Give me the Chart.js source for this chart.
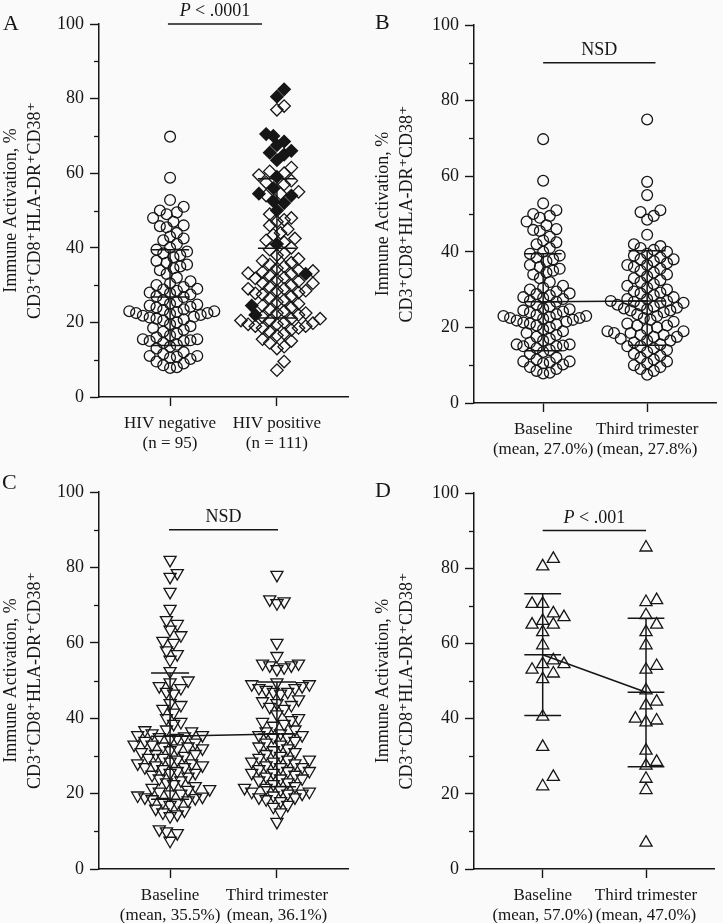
<!DOCTYPE html>
<html>
<head>
<meta charset="utf-8">
<script src="https://cdn.jsdelivr.net/npm/chart.js@4.4.0/dist/chart.umd.min.js"></script>
<style>
  body { margin: 0; background: #fafafa; }
  .panel { position: absolute; }
</style>
</head>
<body>
<div class="panel" style="left:0;top:0;width:362px;height:460px"><canvas id="chartA"></canvas></div>
<div class="panel" style="left:362px;top:0;width:361px;height:460px"><canvas id="chartB"></canvas></div>
<div class="panel" style="left:0;top:460px;width:362px;height:463px"><canvas id="chartC"></canvas></div>
<div class="panel" style="left:362px;top:460px;width:361px;height:463px"><canvas id="chartD"></canvas></div>
<script>
// data

const hivGroups = ['HIV negative', 'HIV positive']
const hivCounts = ['(n = 95)', '(n = 111)']
const visits = ['Baseline', 'Third trimester']
const meansB = ['(mean, 27.0%)', '(mean, 27.8%)']
const meansC = ['(mean, 35.5%)', '(mean, 36.1%)']
const meansD = ['(mean, 57.0%)', '(mean, 47.0%)']
const yTicks = [0, 20, 40, 60, 80, 100]

// HIV negative women at baseline (panel A left, panel B left)
const negBaseline = [69.8, 58.8, 52.8,
  51, 50, 49.5, 49, 48,
  47, 46, 45.8, 45.5,
  44, 43, 42.5, 42,
  41, 40, 39.5, 39, 38.5, 38, 37.5,
  36.5, 36, 35.5, 35, 34.5, 34,
  33, 32, 31, 30.5, 30,
  29.5, 29, 28.8, 28.5, 28, 27.8, 27.5, 27, 26.8,
  26, 25.5, 25, 24.5, 24.2, 24,
  24.8, 23.5, 23.3, 23, 23, 22.8, 22.5, 22.5, 22.3, 22, 21.3, 20.8,
  21.8, 21.5, 21, 20.5, 20, 19.5, 19,
  18.5, 18, 17.5, 17, 16.5, 16,
  15.5, 15.5, 15.2, 15, 15, 14.5, 14, 13.5, 13,
  12, 11.5, 11, 11, 10.8, 10.5, 10.2,
  9.5, 9, 8.5, 8, 7.8]

// HIV positive women at baseline (panel A right): open and filled diamonds
const posOpen = [78, 77,
  61.5, 60.5, 60, 59.5,
  58, 57.5, 57,
  55, 54.5, 54,
  49, 48, 47.5, 47,
  46, 45, 44,
  43.5, 42.5, 42, 41.5,
  40, 39.5, 38.5, 38,
  37, 36.5, 36, 35.5, 35,
  34.5, 34, 33.8, 33.5, 33.2, 33, 32.5, 32,
  31.8, 31.5, 31, 30.5, 30.5, 30, 29.5, 29, 29,
  28.5, 28.5, 28, 27.8, 27.5, 27, 26.5, 26,
  25.5, 25, 24.5, 24, 23.5, 23,
  22.5, 22.5, 22, 21.5, 21, 21, 20.5, 20.5, 20,
  19.8, 19.5, 19.5, 19, 19, 18.5, 18.5, 18,
  17.5, 17, 16.5, 15.5, 15,
  14.5, 13.5, 13,
  9.5, 7.2]
const posFilled = [82.5, 80.5, 70.5, 70, 68.5, 67.5, 66, 65.5, 65, 63.5, 59,
  56, 54.5, 54, 52.5, 52, 50, 41, 33, 24.5, 22]

// HIV negative, third trimester (panel B right)
const negThird = [75, 58.5, 55, 51, 50.5, 49.5, 48.5,
  44.5, 42, 41.5, 41,
  40.5, 40, 39.5, 39, 38.5, 38, 38,
  37.5, 37, 36.5, 36.5, 36, 35.5, 35,
  34.5, 34, 33.5, 33, 32.5, 32,
  31.5, 31, 30.5, 30, 29.5, 29,
  29.2, 28.5, 28, 27.5, 27.5, 27, 27, 26.8, 26.5, 26.5, 26, 25.8, 25.2, 24.8,
  25.5, 25, 24.5, 24.5, 24, 23.5, 23,
  22.5, 22, 21.5, 21, 20.5, 20.5, 20,
  19.5, 19, 19, 18.5, 18.5, 18, 18, 17.5, 17.5, 17,
  16.5, 16.5, 16, 15.5, 15, 15, 14.5, 14,
  13.5, 13, 12.5, 12, 11.5, 11,
  10.5, 10, 9.5, 9, 8.5, 7.5]

// HIV positive, baseline / third trimester (panel C)
const posBaseline = [82, 78.5, 77.5, 73.5, 69, 66, 65, 63.5, 62, 60.5, 60, 58, 57, 55.5,
  52.5, 50, 49.5, 48.5, 48, 47, 46.5,
  44, 43.5, 42.5, 41.5, 40, 39, 38.5,
  37, 36.8, 36.5, 36, 35.5, 35.5, 35.2, 35, 34.8, 34.5, 34,
  33.5, 33, 33, 32.5, 32.5, 32, 32, 31.5,
  31, 30.5, 30.5, 30, 29.5, 29.5, 29,
  28.5, 28, 28, 27.5, 27.5, 27, 27, 26.5, 26,
  25.5, 25.5, 25, 24.5, 24, 23.5, 23,
  22.5, 22, 21.5, 21.2, 21, 20.5, 20, 19.8, 19.2, 18.8,
  19.5, 19, 18.5, 18.2, 17.8, 17.5,
  17, 16, 15.5, 15, 14.5, 14,
  10.5, 10, 9.5, 7.5]
const posThird = [78, 71.5, 71, 70.5, 60, 56.5,
  54.5, 54.5, 54, 54, 53.5, 53,
  49.5, 49, 49, 48.5, 48, 48, 47.5, 47, 47, 46.5,
  45, 44.5, 44, 43.5, 43, 42.5,
  41, 40, 39.5, 39, 38.5, 38,
  37, 36.5, 36, 35.5, 35.5, 35, 35,
  34, 33.5, 33, 32.5, 32, 31.5, 31,
  30.5, 30, 29.5, 29, 29, 28.5, 28.5, 28,
  27.5, 27, 27, 26.5, 26, 26, 25.5, 25.5, 25,
  24.5, 24, 24, 23.5, 23, 22.5,
  22, 21.5, 21.5, 21, 20.5, 20.5, 20, 20,
  19.5, 19, 19, 18.5, 18,
  17, 16.5, 15, 12.5]

// panel D subset
const dBaseline = [82.5, 80.5, 70.5, 70.5, 68, 66, 67, 65, 65, 63, 59.5, 55.5,
  54.5, 54.5, 53, 52, 50.5, 40.5, 32.5, 24.5, 22]
const dThird = [85.5, 71.5, 71, 67.5, 65, 63, 59.5, 54, 53, 47.5, 44.5, 43.5,
  40, 39.5, 39, 31.5, 28.5, 27.5, 24, 21, 7]

// error bars: [upper, centre, lower]
const barsNegBase = [39.5, 26.8, 13.8]
const barsPos = [58.5, 39.9, 21.2]
const barsNegThird = [40.3, 27.0, 15.3]
const barsPosBase = [52, 35.2, 18.5]
const barsPosThird = [49.6, 35.8, 21.8]
const barsDBase = [73.2, 57, 40.8]
const barsDThird = [66.7, 47, 27.2]

// ---------------------------------------------------------------

const SERIF = "'Liberation Serif', 'DejaVu Serif', serif"
const INK = '#161616'
const XMIN = 0.335, XMAX = 2.665
const HALF = 0.178

const GEO = {
  A: { w: 362, h: 460, left: 99, right: 14, top: 24, xh: 63, titlePad: 0 },
  B: { w: 361, h: 460, left: 112, right: 0, top: 25, xh: 57, titlePad: 10 },
  C: { w: 362, h: 463, left: 99, right: 14, top: 32, xh: 54, titlePad: 0 },
  D: { w: 361, h: 463, left: 112, right: 0, top: 33, xh: 54, titlePad: 10 },
}

// beeswarm with an elliptical keep-out (gx across, gy up/down), pixels -> x units
function swarm(values, center, geo, gx, gy) {
  const pxX = (geo.w - geo.left - geo.right) / (XMAX - XMIN)
  const pxY = (geo.h - geo.top - geo.xh) / 100
  const order = values.map((v, i) => i).sort((a, b) => values[a] - values[b])
  const placed = []
  const xs = new Array(values.length)
  order.forEach(i => {
    const py = values[i] * pxY
    let off = 0
    for (let s = 0; s < 80; s++) {
      off = (s % 2 ? 1 : -1) * Math.ceil(s / 2) * gx * 0.5
      const free = placed.every(p => {
        const dx = (p.x - off) / gx, dy = (p.y - py) / gy
        return dx * dx + dy * dy >= 1
      })
      if (free) break
    }
    placed.push({ x: off, y: py })
    xs[i] = center + off / pxX
  })
  return xs
}

function points(values, xs, style) {
  return Object.assign({
    data: values.map((v, i) => ({ x: xs[i], y: v })),
    borderColor: INK,
    backgroundColor: 'rgba(0,0,0,0)',
    borderWidth: 1.3,
    showLine: false,
    clip: false,
  }, style)
}

function bars(center, vals) {
  const [hi, mid, lo] = vals
  return [
    { x: center - HALF, y: hi }, { x: center + HALF, y: hi }, { x: center, y: null },
    { x: center - HALF, y: mid }, { x: center + HALF, y: mid }, { x: center, y: null },
    { x: center - HALF, y: lo }, { x: center + HALF, y: lo }, { x: center, y: null },
    { x: center, y: hi }, { x: center, y: lo },
  ]
}

function lineSet(data) {
  return { data, showLine: true, borderColor: INK, borderWidth: 1.5, pointRadius: 0, spanGaps: false, clip: false }
}

const circle = { pointStyle: 'circle', pointRadius: 5.4 }
const diamond = { pointStyle: 'rectRot', pointRadius: 6.2 }
const triDown = { pointStyle: 'triangle', pointRadius: 7, rotation: 180 }
const triUp = { pointStyle: 'triangle', pointRadius: 7, rotation: 0 }

const decor = {
  id: 'decor',
  afterDraw(chart, args, o) {
    const { ctx } = chart
    const x = chart.scales.x, y = chart.scales.y
    ctx.save()
    ctx.strokeStyle = INK
    ctx.lineWidth = 1.3
    for (let v = 10; v < 100; v += 20) {
      const py = Math.round(y.getPixelForValue(v)) + 0.5
      ctx.beginPath()
      ctx.moveTo(y.right - 5, py)
      ctx.lineTo(y.right, py)
      ctx.stroke()
    }
    ctx.fillStyle = INK
    ctx.textBaseline = 'alphabetic'
    ctx.font = '22px ' + SERIF
    ctx.fillText(o.letter[0], o.letter[1], o.letter[2])

    const s = o.sig
    const x1 = x.getPixelForValue(s.from), x2 = x.getPixelForValue(s.to)
    const ly = y.getPixelForValue(s.level)
    ctx.lineWidth = 1.5
    ctx.beginPath()
    ctx.moveTo(x1, ly)
    ctx.lineTo(x2, ly)
    ctx.stroke()
    const itFont = 'italic 18px ' + SERIF, rmFont = '18px ' + SERIF
    ctx.font = itFont
    const w1 = s.italic ? ctx.measureText(s.italic).width : 0
    ctx.font = rmFont
    const w2 = ctx.measureText(s.text).width
    let tx = (x1 + x2) / 2 - (w1 + w2) / 2
    if (s.italic) {
      ctx.font = itFont
      ctx.fillText(s.italic, tx, ly - 8)
      tx += w1
    }
    ctx.font = rmFont
    ctx.fillText(s.text, tx, ly - 8)
    ctx.restore()
  }
}

function makeChart(id, geo, datasets, topLabels, bottomLabels, letter, sig) {
  return new Chart(document.getElementById(id), {
    type: 'scatter',
    data: { datasets },
    plugins: [decor],
    options: {
      responsive: true,
      maintainAspectRatio: false,
      animation: false,
      layout: { padding: { top: geo.top, right: geo.right, left: 0, bottom: 0 } },
      plugins: {
        legend: { display: false },
        tooltip: { enabled: false },
        decor: { letter, sig },
      },
      scales: {
        x: {
          type: 'linear',
          min: XMIN,
          max: XMAX,
          afterBuildTicks: s => { s.ticks = [{ value: 1 }, { value: 2 }] },
          afterFit: s => { s.height = geo.xh },
          ticks: {
            autoSkip: false,
            maxRotation: 0,
            padding: 7,
            color: INK,
            font: { family: SERIF, size: 17, lineHeight: 1.2 },
            callback: v => [topLabels[Math.round(v) - 1], bottomLabels[Math.round(v) - 1]],
          },
          grid: { drawOnChartArea: false, tickLength: 9, tickWidth: 1.4, tickColor: INK },
          border: { color: INK, width: 1.5 },
        },
        y: {
          min: 0,
          max: 100,
          afterBuildTicks: s => { s.ticks = yTicks.map(v => ({ value: v })) },
          afterFit: s => { s.width = geo.left },
          ticks: { padding: 6, color: INK, font: { family: SERIF, size: 18 } },
          grid: { drawOnChartArea: false, tickLength: 9, tickWidth: 1.4, tickColor: INK },
          border: { color: INK, width: 1.5 },
          title: {
            display: true,
            text: ['Immune Activation, %', 'CD3\u207ACD8\u207AHLA-DR\u207ACD38\u207A'],
            color: INK,
            font: { family: SERIF, size: 18, lineHeight: 1.3 },
            padding: { top: geo.titlePad, bottom: 0 },
          },
        },
      },
    },
  })
}

// panel A
const posAll = posOpen.concat(posFilled)
const xsPos = swarm(posAll, 2, GEO.A, 7.2, 10.5)
makeChart('chartA', GEO.A, [
  lineSet(bars(1, barsNegBase)),
  lineSet(bars(2, barsPos)),
  points(negBaseline, swarm(negBaseline, 1, GEO.A, 6.8, 10), circle),
  points(posOpen, xsPos.slice(0, posOpen.length), diamond),
  points(posFilled, xsPos.slice(posOpen.length), Object.assign({ backgroundColor: INK }, diamond)),
], hivGroups, hivCounts, ['A', 3, 30], { from: 0.98, to: 1.86, level: 100, italic: 'P', text: ' < .0001' })

// panel B
makeChart('chartB', GEO.B, [
  lineSet(bars(1, barsNegBase)),
  lineSet(bars(2, barsNegThird)),
  lineSet([{ x: 1, y: barsNegBase[1] }, { x: 2, y: barsNegThird[1] }]),
  points(negBaseline, swarm(negBaseline, 1, GEO.B, 6.8, 10), circle),
  points(negThird, swarm(negThird, 2, GEO.B, 6.8, 10), circle),
], visits, meansB, ['B', 13, 29], { from: 1, to: 2.08, level: 90, italic: '', text: 'NSD' })

// panel C
makeChart('chartC', GEO.C, [
  lineSet(bars(1, barsPosBase)),
  lineSet(bars(2, barsPosThird)),
  lineSet([{ x: 1, y: barsPosBase[1] }, { x: 2, y: barsPosThird[1] }]),
  points(posBaseline, swarm(posBaseline, 1, GEO.C, 7.2, 10.5), triDown),
  points(posThird, swarm(posThird, 2, GEO.C, 7.2, 10.5), triDown),
], visits, meansC, ['C', 2, 29], { from: 0.99, to: 2.01, level: 90, italic: '', text: 'NSD' })

// panel D
makeChart('chartD', GEO.D, [
  lineSet(bars(1, barsDBase)),
  lineSet(bars(2, barsDThird)),
  lineSet([{ x: 1, y: barsDBase[1] }, { x: 2, y: barsDThird[1] }]),
  points(dBaseline, swarm(dBaseline, 1, GEO.D, 11, 11), triUp),
  points(dThird, swarm(dThird, 2, GEO.D, 11, 11), triUp),
], visits, meansD, ['D', 13, 37], { from: 1, to: 2, level: 90, italic: 'P', text: ' < .001' })
</script>
</body>
</html>
